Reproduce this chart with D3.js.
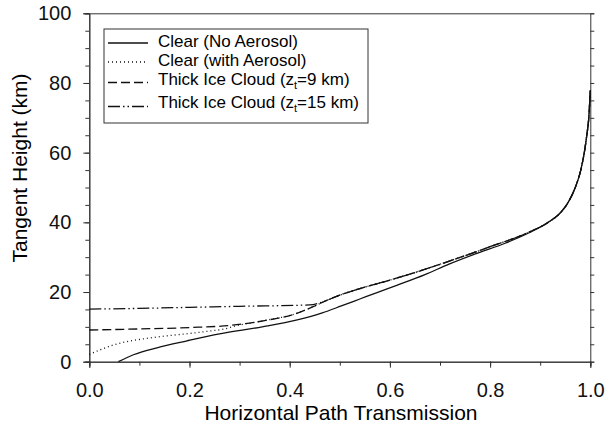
<!DOCTYPE html>
<html>
<head>
  <meta charset="utf-8">
  <title>Horizontal Path Transmission</title>
  <script src="https://d3js.org/d3.v7.min.js"></script>
  <style>
    body { margin: 0; background: #fff; }
    svg { font-family: "Liberation Sans", Arial, Helvetica, sans-serif; }
    .axis path, .axis line { stroke: #333; stroke-width: 1; }
    .axis text { font-size: 20px; fill: #111; }
    .curve { fill: none; stroke: #111; stroke-width: 1.3; }
  </style>
</head>
<body>
  <script>
    // Data (transmission vs tangent height)
    var transNoAerosol = [0.058, 0.088, 0.135, 0.195, 0.26, 0.345, 0.415, 0.465, 0.503, 0.54, 0.577, 0.615, 0.67, 0.718, 0.772, 0.83, 0.878, 0.916, 0.942, 0.957, 0.970, 0.981, 0.988, 0.993, 0.997, 0.999, 1.0];
    var heightNoAerosol = [0, 2, 4, 6, 8, 10, 12, 14, 16, 18, 20, 22, 25, 28, 31, 34, 37, 40, 43, 46, 50, 55, 60, 65, 70, 75, 78];

    var transAerosol = [0, 0.02, 0.048, 0.08, 0.115, 0.16, 0.2, 0.24, 0.27, 0.29, 0.35, 0.41, 0.447, 0.474, 0.5, 0.54, 0.58, 0.65, 0.713, 0.8, 0.873, 0.916, 0.942, 0.957, 0.970, 0.981, 0.988, 0.993, 0.997, 0.999, 1.0];
    var heightAerosol = [2.1, 3.3, 4.8, 5.9, 6.7, 7.5, 8.1, 8.8, 9.4, 10.2, 11.8, 13.7, 15.8, 17.6, 19.1, 21, 22.6, 25.6, 28.6, 33, 36.9, 40, 43, 46, 50, 55, 60, 65, 70, 75, 78];

    var transCloud9 = [0, 0.1, 0.2, 0.28, 0.35, 0.41, 0.447, 0.474, 0.5, 0.54, 0.58, 0.65, 0.713, 0.8, 0.873, 0.916, 0.942, 0.957, 0.970, 0.981, 0.988, 0.993, 0.997, 0.999, 1.0];
    var heightCloud9 = [9.1, 9.4, 9.8, 10.4, 11.8, 13.7, 15.8, 17.6, 19.1, 21, 22.6, 25.6, 28.6, 33, 36.9, 40, 43, 46, 50, 55, 60, 65, 70, 75, 78];

    var transCloud15 = [0, 0.1, 0.2, 0.3, 0.44, 0.474, 0.5, 0.54, 0.58, 0.65, 0.713, 0.8, 0.873, 0.916, 0.942, 0.957, 0.970, 0.981, 0.988, 0.993, 0.997, 0.999, 1.0];
    var heightCloud15 = [15.1, 15.3, 15.6, 15.9, 16.3, 17.6, 19.1, 21, 22.6, 25.6, 28.6, 33, 36.9, 40, 43, 46, 50, 55, 60, 65, 70, 75, 78];

    var seriesNames = ["Clear (No Aerosol)", "Clear (with Aerosol)", "Thick Ice Cloud (z", "Thick Ice Cloud (z"];
    var seriesTails = ["", "", "=9 km)", "=15 km)"];
    var dashes = [null, "1,3", "9,4", "12,3,1.5,3,1.5,3"];

    var xTickLabels = [0, 0.2, 0.4, 0.6, 0.8, 1.0];
    var yTickLabels = [0, 20, 40, 60, 80, 100];

    var W = 608, H = 428;
    var margin = {top: 13.3, right: 17.7, bottom: 66.3, left: 89.3};
    var width = W - margin.left - margin.right;
    var height = H - margin.top - margin.bottom;

    var svg = d3.select("body").append("svg")
      .attr("width", W)
      .attr("height", H);

    var g = svg.append("g")
      .attr("transform", "translate(" + margin.left + "," + margin.top + ")");

    var x = d3.scaleLinear().domain([0, 1]).range([0, width]);
    var y = d3.scaleLinear().domain([0, 100]).range([height, 0]);

    // minor ticks
    g.append("g").attr("class", "axis")
      .attr("transform", "translate(0," + height + ")")
      .call(d3.axisBottom(x).tickValues(d3.range(0, 1.01, 0.1)).tickSize(4).tickFormat(""));
    g.append("g").attr("class", "axis")
      .call(d3.axisLeft(y).tickValues(d3.range(0, 101, 5)).tickSize(4).tickFormat(""));
    g.append("g").attr("class", "axis")
      .attr("transform", "translate(" + width + ",0)")
      .call(d3.axisRight(y).tickValues(d3.range(0, 101, 5)).tickSize(4).tickFormat(""));
    g.append("g").attr("class", "axis")
      .call(d3.axisTop(x).tickValues([]).tickSizeOuter(0));

    // major ticks with labels
    g.append("g").attr("class", "axis")
      .attr("transform", "translate(0," + height + ")")
      .call(d3.axisBottom(x).tickValues(xTickLabels).tickSize(6).tickPadding(15).tickFormat(d3.format(".1f")));
    g.append("g").attr("class", "axis")
      .call(d3.axisLeft(y).tickValues(yTickLabels).tickSize(6).tickPadding(12));

    // curves
    var line = d3.line()
      .curve(d3.curveMonotoneX)
      .x(function(d) { return x(d[0]); })
      .y(function(d) { return y(d[1]); });

    var series = [
      d3.zip(transNoAerosol, heightNoAerosol),
      d3.zip(transAerosol, heightAerosol),
      d3.zip(transCloud9, heightCloud9),
      d3.zip(transCloud15, heightCloud15)
    ];

    series.forEach(function(s, i) {
      g.append("path")
        .datum(s)
        .attr("class", "curve")
        .attr("stroke-dasharray", dashes[i])
        .attr("d", line);
    });

    // axis titles
    svg.append("text")
      .attr("x", 341)
      .attr("y", 420)
      .attr("text-anchor", "middle")
      .style("font-size", "21px")
      .text("Horizontal Path Transmission");

    svg.append("text")
      .attr("transform", "rotate(-90)")
      .attr("x", -168)
      .attr("y", 27)
      .attr("text-anchor", "middle")
      .style("font-size", "21px")
      .text("Tangent Height (km)");

    // legend
    var legend = svg.append("g");
    legend.append("rect")
      .attr("x", 104).attr("y", 29)
      .attr("width", 264).attr("height", 94)
      .attr("fill", "#fff")
      .attr("stroke", "#333")
      .attr("stroke-width", 1);

    var rowText = [47, 65.5, 85, 108];
    var rowLine = [43, 62, 82.5, 106.5];

    seriesNames.forEach(function(name, i) {
      legend.append("line")
        .attr("x1", 108).attr("x2", 148)
        .attr("y1", rowLine[i]).attr("y2", rowLine[i])
        .attr("stroke", "#111")
        .attr("stroke-width", 1.3)
        .attr("stroke-dasharray", dashes[i]);
      var t = legend.append("text")
        .attr("x", 158)
        .attr("y", rowText[i])
        .style("font-size", "17px")
        .text(name);
      if (seriesTails[i]) {
        t.append("tspan").attr("dy", 4).style("font-size", "11px").text("t");
        t.append("tspan").attr("dy", -4).text(seriesTails[i]);
      }
    });
  </script>
</body>
</html>
